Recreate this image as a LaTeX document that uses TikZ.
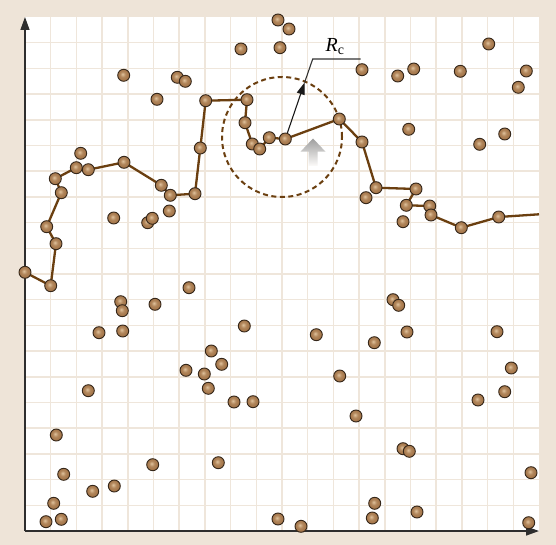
\documentclass[tikz,border=0pt]{standalone}
\usepackage{fontspec}
\setmainfont{Liberation Serif}
\usetikzlibrary{arrows.meta}
\definecolor{framebg}{HTML}{EEE4D8}
\definecolor{gridc}{HTML}{EFE6DB}
\definecolor{chainc}{HTML}{6B3F10}
\definecolor{ballhl}{HTML}{E0C29C}
\definecolor{ballbd}{HTML}{9C6B3E}
\definecolor{balldk}{HTML}{6A4324}
\definecolor{ballout}{HTML}{35271A}
\definecolor{axisc}{HTML}{2E2E2E}
\pgfdeclareradialshading{pball}{\pgfpoint{-5bp}{5bp}}{color(0bp)=(ballhl); color(12bp)=(ballbd!70!ballhl); color(30bp)=(ballbd); color(50bp)=(balldk)}
\tikzset{
  ball/.style={circle,draw=ballout,line width=0.9bp,inner sep=0pt,minimum size=12bp,shade,shading=pball},
  chainline/.style={draw=chainc,line width=2.3bp,line join=round},
  gridline/.style={draw=gridc,line width=1.5bp},
  axisline/.style={draw=axisc,line width=1.4bp,-{Triangle[length=13bp,width=9bp]}},
  rcarrow/.style={draw=black!90,line width=1.1bp,-{Triangle[length=12bp,width=8bp]}},
  leader/.style={draw=black!80,line width=1.1bp},
  rcircle/.style={circle,draw=chainc,line width=2bp,dash pattern=on 5bp off 3.5bp,minimum size=120bp,inner sep=0pt}
}
\begin{document}
\begin{tikzpicture}[x=1bp,y=-1bp]
\useasboundingbox (0,0) rectangle (556,545);
\fill[framebg] (0,0) rectangle (556,545);
\fill[white] (25,17) rectangle (539,531);
\foreach \k in {1,...,19}{
  \draw[gridline] ({25+25.7*\k},17) -- ({25+25.7*\k},531);
  \draw[gridline] (25,{17+25.7*\k}) -- (539,{17+25.7*\k});
}
% axes
\coordinate (o) at (25,531);
\coordinate (ytop) at (25,17);
\coordinate (xend) at (539,531);
\draw[axisline] (o) -- (ytop);
\draw[axisline] (o) -- (xend);
% dashed circle
\node[rcircle] (rcirc) at (282,137) {};
% gray arrow
\shade[top color=black!38, bottom color=white!85!framebg] (313,138.5) -- (325.5,151.7) -- (317.5,151.7) -- (317.5,166) -- (308.5,166) -- (308.5,151.7) -- (300.5,151.7) -- cycle;
% chain coordinates
\foreach \x/\y [count=\i] in {25/272.3,50.7/285.7,56/243.7,46.7/226.7,61.3/192.7,55.3/178.7,76.3/167.7,88.3/169.7,124/162.3,161.3/185.3,170.3/195.3,195/193.7,200.3/148,205.7/100.7,247/99.7,245/122.7,252.3/144,259.7/149,269.3/137.7,285.3/139,339.3/119,362/142,376/187.7,416/189,406.3/205.3,429.7/206,431/215,461.3/227.7,498.7/217}
  \coordinate (c\i) at (\x,\y);
\coordinate (cend) at (539,214.3);
\draw[chainline] (c1) -- (c2) -- (c3) -- (c4) -- (c5) -- (c6) -- (c7) -- (c8) -- (c9) -- (c10) -- (c11) -- (c12) -- (c13) -- (c14) -- (c15) -- (c16) -- (c17) -- (c18) -- (c19) -- (c20) -- (c21) -- (c22) -- (c23) -- (c24) -- (c25) -- (c26) -- (c27) -- (c28) -- (c29) -- (cend);
% R_c arrow and leader
\coordinate (rc) at (304.6,82.5);
\coordinate (knee) at (312.7,59);
\coordinate (lend) at (360.7,59);
\draw[rcarrow] (c20) -- (rc);
\draw[leader] (rc) -- (knee) -- (lend);
\node[anchor=base west,inner sep=0pt,font=\fontsize{20}{20}\selectfont] (rlab) at (325.5,51.3) {\textit{R}\textsubscript{c}};
% chain balls
\foreach \i in {1,...,29} \node[ball] (k\i) at (c\i) {};
% free particles
\foreach \x/\y [count=\i] in {278/20,289/29,241/49,280/47.7,123.7/75.3,177.3/77.3,185.3/81.3,157/99.3,80.7/153.3,113.7/218,147.7/222.7,152.3/218.3,169.3/211,362/69.7,397.7/76,413.7/69,460.3/71.3,488.7/44,526.3/71,518.3/87.3,408.7/129.3,479.7/144.3,504.7/134,366/197.7,403/221.7,189/287.7,120.7/301.7,122.3/310.7,155/304.3,99/332.7,122.7/331,244.3/326,211.3/351,221.7/364.3,186/370.3,204.3/374,208.3/388.3,88.3/390.7,234/402,253/401.7,56.3/435,152.7/464.7,218.3/462.7,63.7/474.3,92.7/491.3,114.3/486,53.7/503.3,46/521.7,61.3/519.3,278/519,393/299.7,398.7/305.3,316.3/334.7,374.3/342.7,407/332,497/331.7,339.7/376,511.3/368,504.7/391.7,478/400,356/416,403/448.7,409.3/451.3,531/472.7,374.7/503.3,372.3/518,417/512,301/526.3,528.7/522.7}
  \node[ball] (q\i) at (\x,\y) {};
\end{tikzpicture}
\end{document}
